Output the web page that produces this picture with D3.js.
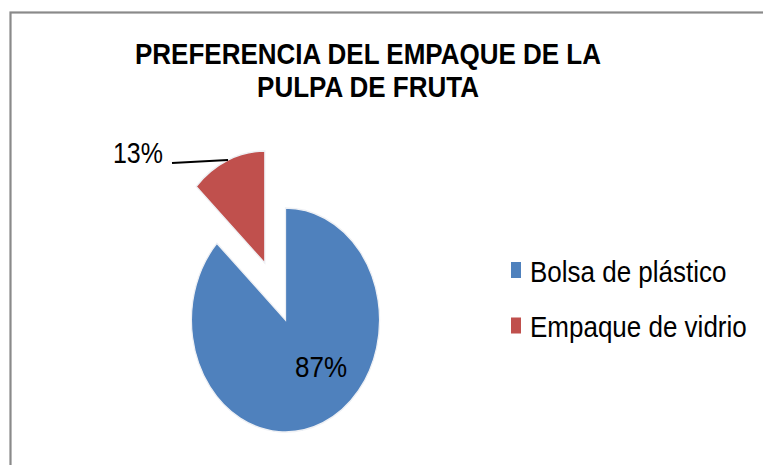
<!DOCTYPE html>
<html>
<head>
<meta charset="utf-8">
<script src="https://cdn.jsdelivr.net/npm/d3@7"></script>
<style>
  body { margin: 0; background: #fff; }
  text { font-family: "Liberation Sans", Arial, sans-serif; }
</style>
</head>
<body>
<div id="chartContainer"></div>
<script>
const categories = ["Bolsa de plástico", "Empaque de vidrio"];
const values = [87, 13];
const labels = ["87%", "13%"];
const colors = ["#4F81BD", "#C0504D"];
const titleLines = ["PREFERENCIA DEL EMPAQUE DE LA", "PULPA DE FRUTA"];

const width = 763;
const height = 465;

const data = categories.map((c, i) => ({ name: c, value: values[i], label: labels[i] }));

const svg = d3.select("#chartContainer")
  .append("svg")
  .attr("width", width)
  .attr("height", height);

// chart area border (runs off the right and bottom edge)
svg.append("rect")
  .attr("x", 10.5)
  .attr("y", 12.5)
  .attr("width", 800)
  .attr("height", 500)
  .attr("fill", "none")
  .attr("stroke", "#8a8a8a")
  .attr("stroke-width", 2.2);

// title
svg.selectAll(".title")
  .data(titleLines)
  .enter()
  .append("text")
  .attr("class", "title")
  .attr("transform", (d, i) => `translate(368, ${63.5 + i * 33.5}) scale(1, 1.13)`)
  .attr("text-anchor", "middle")
  .attr("font-size", "26px")
  .attr("font-weight", "bold")
  .attr("fill", "#000")
  .text(d => d);

// pie (slightly squashed horizontally like the original)
const radius = 112;
const cx = 285.5, cy = 320;
const explode = 62;

const pie = d3.pie().value(d => d.value).sort(null);
const arcs = pie(data);
const arc = d3.arc().innerRadius(0).outerRadius(radius);

const pieG = svg.append("g")
  .attr("transform", `translate(${cx}, ${cy}) scale(0.84, 1)`);

pieG.selectAll("path")
  .data(arcs)
  .enter()
  .append("path")
  .attr("d", arc)
  .attr("transform", (d, i) => {
    if (i === 0) return null;
    const mid = (d.startAngle + d.endAngle) / 2;
    return `translate(${Math.sin(mid) * explode}, ${-Math.cos(mid) * explode})`;
  })
  .attr("fill", (d, i) => colors[i])
  .attr("stroke", "#eef0f4")
  .attr("stroke-width", 1.5);

// data labels
svg.append("text")
  .attr("transform", "translate(321, 377) scale(1, 1.1)")
  .attr("text-anchor", "middle")
  .attr("font-size", "26px")
  .text(data[0].label);

svg.append("text")
  .attr("transform", "translate(163, 163) scale(1, 1.15)")
  .attr("text-anchor", "end")
  .attr("font-size", "25px")
  .text(data[1].label);

svg.append("line")
  .attr("x1", 172)
  .attr("y1", 163)
  .attr("x2", 228)
  .attr("y2", 160)
  .attr("stroke", "#000")
  .attr("stroke-width", 2);

// legend
const legend = svg.selectAll(".legend")
  .data(data)
  .enter()
  .append("g")
  .attr("class", "legend")
  .attr("transform", (d, i) => `translate(511, ${262 + i * 55.5})`);

legend.append("rect")
  .attr("width", 10)
  .attr("height", 16)
  .attr("fill", (d, i) => colors[i]);

legend.append("text")
  .attr("transform", "translate(19, 19.5) scale(1, 1.12)")
  .attr("font-size", "26px")
  .attr("fill", "#000")
  .text(d => d.name);
</script>
</body>
</html>
